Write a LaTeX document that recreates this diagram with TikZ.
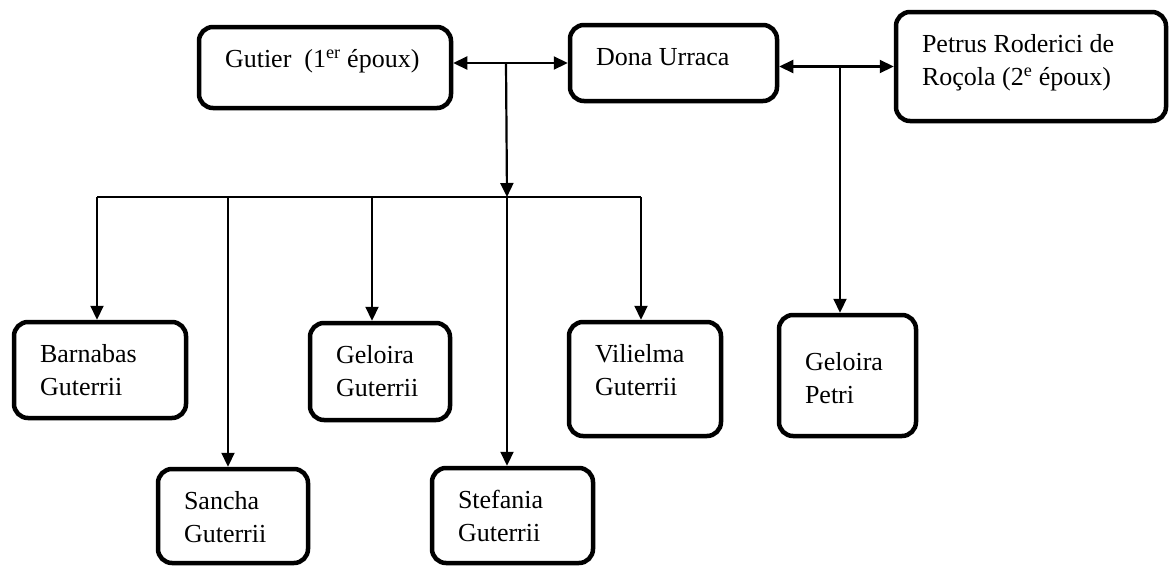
\documentclass[tikz,border=0pt]{standalone}
\usepackage{fontspec}
\setmainfont{Liberation Serif}
\usetikzlibrary{arrows.meta}

% text block of a box: [position] {height} {width} {text}
\newcommand{\ntext}[4][t]{\parbox[c][#2][#1]{#3}{\raggedright\strut #4}}

\begin{document}
\begin{tikzpicture}[x=1pt,y=-1pt,
		box/.style={draw=black,line width=4.5pt,rounded corners=14pt,inner xsep=26pt,inner ysep=17pt,
			font=\fontsize{26}{33}\selectfont},
		link/.style={line width=2.2pt,-{Triangle[length=14pt,width=13pt]}},
		twolink/.style={line width=2.2pt,{Triangle[length=14pt,width=13pt]}-{Triangle[length=14pt,width=13pt]}}]
			\useasboundingbox (0,0) rectangle (1170,568);
			
			% parents
			
			\node[box] (gut) at (325,67.5) {\ntext{47pt}{200pt}{Gutier\ \ (1\textsuperscript{er} époux)}};
			\node[box] (ura) at (673.5,63) {\ntext{42pt}{155pt}{Dona Urraca}};
			\node[box] (pet) at (1031,66.5) {\ntext{75pt}{218pt}{Petrus Roderici de\\Roçola (2\textsuperscript{e} époux)}};
			
			% enfants
			
			\node[box] (c1) at (100,370) {\ntext{62pt}{120pt}{Barnabas\\Guterrii}};
			\node[box] (c2) at (233,516) {\ntext{60pt}{98pt}{Sancha\\Guterrii}};
			\node[box] (c3) at (380,371.5) {\ntext{63pt}{88pt}{Geloira\\Guterrii}};
			\node[box] (c4) at (512.5,515.5) {\ntext{61pt}{109pt}{Stefania\\Guterrii}};
			\node[box] (c5) at (645,379) {\ntext{80pt}{100pt}{Vilielma\\Guterrii}};
			\node[box] (c6) at (847.5,375.5) {\ntext[c]{87pt}{85pt}{Geloira\\Petri}};
			
			% mariages
			
			\draw[twolink] (gut.east |- ura.west) -- (ura.west);
			\draw[twolink] (ura.east |- pet.west) -- (pet.west);
			
			\coordinate (m1) at (506,63);
			\coordinate (m2) at (840,67);
			\foreach \i/\x in {1/97,2/228,3/372,4/507,5/641} {
				\coordinate (d\i) at (\x,197);
			}
			
			\draw[link] (m1) -- (d4);
			\draw[line width=2.2pt] (d1) -- (d5);
			\foreach \i in {1,...,5} {
				\draw[link] (d\i) -- (d\i |- c\i.north);
			}
			\draw[link] (m2) -- (m2 |- c6.north);
			
		\end{tikzpicture}
\end{document}
